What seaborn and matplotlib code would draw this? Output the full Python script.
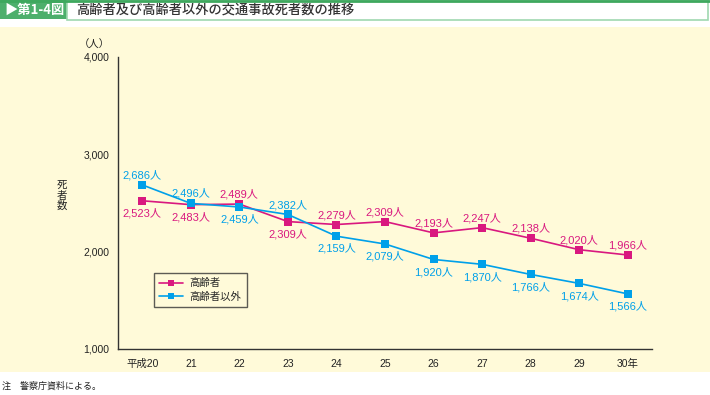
import matplotlib.pyplot as plt
import pandas as pd
import seaborn as sns
from matplotlib.patches import Rectangle

sns.set_style('white')
plt.rcParams['font.family'] = ['Noto Sans CJK JP', 'DejaVu Sans']
num_font = ['Liberation Sans', 'Noto Sans CJK JP']

years = ['平成20', '21', '22', '23', '24', '25', '26', '27', '28', '29', '30年']
elderly = [2523, 2483, 2489, 2309, 2279, 2309, 2193, 2247, 2138, 2020, 1966]
non_elderly = [2686, 2496, 2459, 2382, 2159, 2079, 1920, 1870, 1766, 1674, 1566]
# label placement: 1 = above the marker, -1 = below
elderly_pos = [-1, -1, 1, -1, 1, 1, 1, 1, 1, 1, 1]
non_elderly_pos = [1, 1, -1, 1, -1, -1, -1, -1, -1, -1, -1]

series = {'高齢者': elderly, '高齢者以外': non_elderly}
colors = {'高齢者': '#d9187f', '高齢者以外': '#00a0e9'}
cream = '#fffad9'

df = pd.DataFrame([
    {'idx': i, 'group': name, 'deaths': v}
    for name, vals in series.items() for i, v in enumerate(vals)
])

fig = plt.figure(figsize=(7.1, 3.95), dpi=100)
fig.patch.set_facecolor('white')

# cream panel behind the chart
fig.add_artist(Rectangle((0, 23 / 395), 1, 1 - 50 / 395, transform=fig.transFigure,
                         facecolor=cream, edgecolor='none', zorder=-10))
# header
fig.add_artist(Rectangle((0, 1 - 19 / 395), 67 / 710, 19 / 395, transform=fig.transFigure,
                         facecolor='#4daf6c', edgecolor='none'))
fig.add_artist(Rectangle((67 / 710, 1 - 20 / 395), 641 / 710, 19 / 395, transform=fig.transFigure,
                         facecolor='white', edgecolor='#9fd8b0', linewidth=1.2))
fig.add_artist(plt.Line2D([0, 1], [1 - 1 / 395, 1 - 1 / 395], transform=fig.transFigure,
                          color='#3ea85e', linewidth=2))
fig.text(4 / 710, 1 - 10 / 395, '▶第1-4図', color='white', fontsize=9.5, fontweight='bold',
         va='center', ha='left', family=['Noto Sans CJK JP', 'DejaVu Sans'])
fig.text(76 / 710, 1 - 10 / 395, '高齢者及び高齢者以外の交通事故死者数の推移', color='#333333',
         fontsize=9.5, fontweight='medium', va='center', ha='left')
fig.text(2 / 710, 1 - 386 / 395, '注　警察庁資料による。', fontsize=6.5, color='#222222',
         va='center', ha='left')

ax = fig.add_axes([118 / 710, 46 / 395, 534 / 710, 292 / 395])
ax.set_facecolor(cream)

sns.lineplot(data=df, x='idx', y='deaths', hue='group', style='group',
             palette=colors, markers=['s', 's'], dashes=False, markersize=6,
             markeredgewidth=0, linewidth=1.2, ax=ax)

for name, vals, pos in [('高齢者', elderly, elderly_pos), ('高齢者以外', non_elderly, non_elderly_pos)]:
    for i, (v, p) in enumerate(zip(vals, pos)):
        ax.annotate(f'{v:,}人', (i, v), xytext=(0, 7 if p > 0 else -9), textcoords='offset points',
                    ha='center', va='center', fontsize=8, color=colors[name], family=num_font)

ax.set_xlim(-0.5, 10.5)
ax.set_ylim(1000, 4000)
ax.set_yticks([1000, 2000, 3000, 4000])
ax.set_yticklabels(['1,000', '2,000', '3,000', '4,000'], family=num_font)
ax.set_xticks(range(len(years)))
ax.set_xticklabels(years, family=num_font)
ax.set_xticks([i + 0.5 for i in range(len(years))], minor=True)
ax.tick_params(axis='x', which='major', length=0, pad=7, labelsize=7.5, labelcolor='#222222')
ax.tick_params(axis='x', which='minor', direction='in', length=4, width=1, color='#333333')
ax.tick_params(axis='y', direction='in', length=3, width=1, color='#333333', pad=6,
               labelsize=7.5, labelcolor='#222222')
ax.set_xlabel('')
ax.set_ylabel('')
for s in ['top', 'right']:
    ax.spines[s].set_visible(False)
for s in ['left', 'bottom']:
    ax.spines[s].set_color('#333333')
    ax.spines[s].set_linewidth(1)

fig.text(94 / 710, 1 - 45 / 395, '（人）', fontsize=7.5, ha='center', va='center', color='#222222')
fig.text(62 / 710, 1 - 196 / 395, '死\n者\n数', fontsize=7.5, ha='center', va='center',
         linespacing=1.0, color='#222222')

handles, labels = ax.get_legend_handles_labels()
leg = ax.legend(handles, labels, loc='lower left', bbox_to_anchor=(0.058, 0.125),
                fontsize=7.5, frameon=True, fancybox=False, facecolor=cream,
                edgecolor='#333333', handlelength=2.3, borderpad=0.5, labelspacing=0.35,
                handletextpad=0.6)
leg.get_frame().set_linewidth(1)
for h in leg.legend_handles:
    h.set_markersize(5)

fig.savefig('out.png', dpi=100)
